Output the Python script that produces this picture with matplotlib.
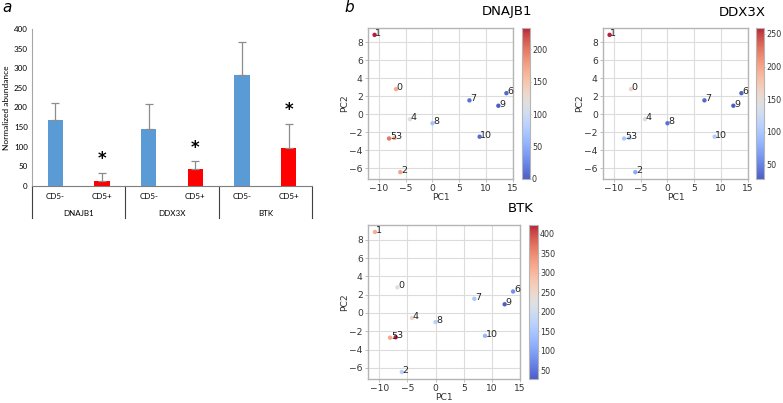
import matplotlib
matplotlib.use("Agg")
import matplotlib.pyplot as plt
import numpy as np

# panel a: normalized abundance (mean, upper error)
genes = ["DNAJB1", "DDX3X", "BTK"]
groups = ["CD5-", "CD5+"]
cd5_neg_mean = [169, 146, 284]
cd5_neg_err = [42, 64, 84]
cd5_pos_mean = [12, 43, 97]
cd5_pos_err = [21, 20, 62]

# panel b: PCA coordinates of samples
sample_ids = [str(i) for i in range(11)]
pc1 = [-6.8, -10.8, -6.0, -7.1, -4.2, -8.1, 13.8, 6.9, 0.0, 12.3, 8.8]
pc2 = [2.8, 8.85, -6.45, -2.65, -0.55, -2.7, 2.35, 1.55, -1.0, 0.95, -2.5]

# expression per sample, used for colour
expr_dnajb1 = [170, 233, 175, 165, 115, 200, 5, 12, 70, 0, 8]
expr_ddx3x = [165, 259, 75, 110, 140, 100, 30, 35, 40, 28, 105]
expr_btk = [225, 310, 165, 422, 255, 320, 80, 150, 170, 28, 125]

W, H = 783, 403
fig = plt.figure(figsize=(W / 100, H / 100), dpi=100)


def box(left, top, right, bottom):
    return [left / W, 1 - bottom / H, (right - left) / W, (bottom - top) / H]


# ---------------- panel a ----------------
ax = fig.add_axes(box(32, 29, 312, 186))
blue, red = "#5b9bd5", "#ff0000"
means, errs, colors = [], [], []
for i in range(len(genes)):
    means += [cd5_neg_mean[i], cd5_pos_mean[i]]
    errs += [cd5_neg_err[i], cd5_pos_err[i]]
    colors += [blue, red]
x = np.arange(len(means))
ax.bar(x, means, width=0.33, color=colors, zorder=2)
ax.errorbar(x, means, yerr=[np.zeros(len(errs)), errs], fmt="none",
            ecolor="#8c8c8c", elinewidth=0.9, capsize=3, capthick=0.9, zorder=3)
for xi, m, e, c in zip(x, means, errs, colors):
    if c == red:
        ax.text(xi, m + e + 12, "*", ha="center", va="bottom",
                fontsize=12, fontweight="bold", color="black")
ax.set_xlim(-0.5, len(means) - 0.5)
ax.set_ylim(0, 400)
ax.set_yticks(range(0, 401, 50))
ax.set_xticks([])
ax.tick_params(axis="y", length=0, labelsize=5.8, pad=3)
for t in ax.get_yticklabels():
    t.set_family("Lato")
for s in ["top", "right"]:
    ax.spines[s].set_visible(False)
ax.spines["left"].set_color("#a6a6a6")
ax.spines["bottom"].set_color("#7f7f7f")
ax.set_ylabel("Normalized abundance", fontsize=6, family="Lato", labelpad=3)

tr = ax.get_xaxis_transform()
for xi in range(len(means)):
    ax.text(xi, -0.07, groups[xi % 2], transform=tr, ha="center", va="center",
            fontsize=5.8, family="Lato")
for gi, g in enumerate(genes):
    ax.text(2 * gi + 0.5, -0.172, g, transform=tr, ha="center", va="center",
            fontsize=5.8, family="Lato")
for sep in np.arange(-0.5, len(means), 2):
    ax.plot([sep, sep], [0, -0.205], transform=tr, color="#404040",
            lw=0.8, clip_on=False)

fig.text(7 / W, 1 - 7 / H, "a", fontsize=11, style="italic", ha="center", va="center")
fig.text(349 / W, 1 - 7 / H, "b", fontsize=11, style="italic", ha="center", va="center")


# ---------------- panel b ----------------
def pca_panel(axbox, cbox, values, title, title_xy):
    a = fig.add_axes(box(*axbox))
    sc = a.scatter(pc1, pc2, c=values, cmap="coolwarm", s=10, zorder=3,
                   linewidths=0, alpha=0.9)
    for px, py, lab in zip(pc1, pc2, sample_ids):
        a.text(px + 0.15, py - 0.1, lab, fontsize=6.8, color="#222222", zorder=4)
    a.set_xticks([-10, -5, 0, 5, 10, 15])
    a.set_yticks([-6, -4, -2, 0, 2, 4, 6, 8])
    a.grid(True, color="#dcdcdc", lw=0.8, zorder=0)
    a.set_axisbelow(True)
    for s in a.spines.values():
        s.set_color("#b5b5b5")
        s.set_linewidth(1.0)
    a.tick_params(labelsize=6.6, colors="#b5b5b5", labelcolor="#333333",
                  length=2.5, width=0.6, pad=1.2)
    a.set_xlabel("PC1", fontsize=6.6, color="#333333", labelpad=0)
    a.set_ylabel("PC2", fontsize=6.6, color="#333333", labelpad=0.5)
    ca = fig.add_axes(box(*cbox))
    cb = fig.colorbar(sc, cax=ca)
    cb.outline.set_edgecolor("#b5b5b5")
    cb.ax.tick_params(labelsize=5.8, colors="#b5b5b5", labelcolor="#333333",
                      length=1, width=0.6, pad=0.4)
    fig.text(title_xy[0] / W, 1 - title_xy[1] / H, title, fontsize=9.5,
             ha="center", va="center")


pca_panel((368, 28, 513, 179), (522, 28, 530, 179), expr_dnajb1, "DNAJB1", (507, 11))
pca_panel((603, 28, 748, 179), (756, 28, 764, 179), expr_ddx3x, "DDX3X", (742, 12))
pca_panel((368, 225, 520, 379), (529, 225, 538, 379), expr_btk, "BTK", (521, 208))

fig.savefig("out.png", dpi=100)
